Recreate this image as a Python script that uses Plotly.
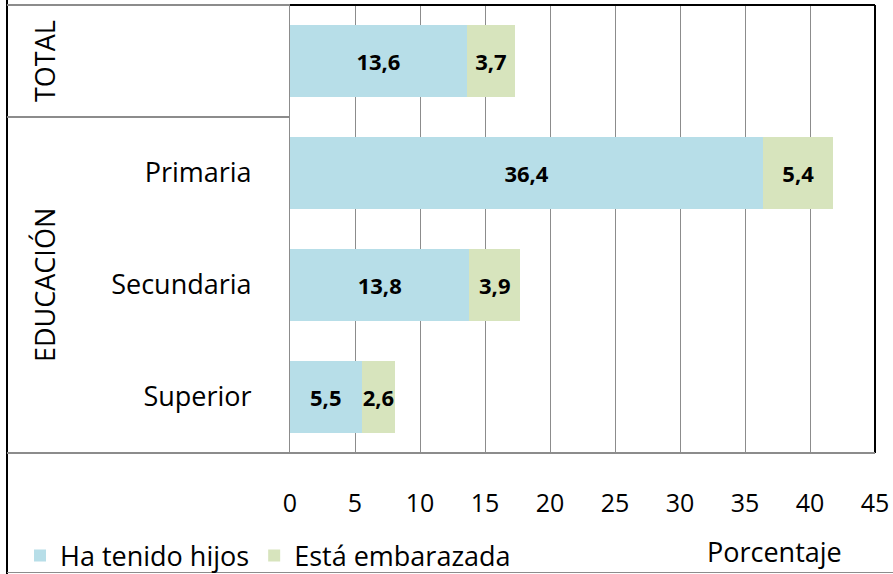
import plotly.graph_objects as go

categories = ["TOTAL", "Primaria", "Secundaria", "Superior"]
tick_labels = ["", "Primaria", "Secundaria", "Superior"]
ha_tenido_hijos = [13.6, 36.4, 13.8, 5.5]
esta_embarazada = [3.7, 5.4, 3.9, 2.6]
x_ticks = [0, 5, 10, 15, 20, 25, 30, 35, 40, 45]

W, H = 893, 574
L, R, T, B = 290, 875, 5, 453


def px(x):
    return (x - L) / (R - L)


def py(y):
    return (B - y) / (B - T)


def fmt(v):
    return f"{v:.1f}".replace(".", ",")


FONT = "Open Sans"
BIG = 27

fig = go.Figure()
fig.add_trace(go.Bar(
    y=categories, x=ha_tenido_hijos, orientation="h", name="Ha tenido hijos",
    marker=dict(color="#B7DEE8", line=dict(width=0)),
    text=[fmt(v) for v in ha_tenido_hijos], textposition="inside",
    insidetextanchor="middle", textangle=0,
    textfont=dict(family=FONT, size=22, color="black", weight="bold"),
))
fig.add_trace(go.Bar(
    y=categories, x=esta_embarazada, orientation="h", name="Está embarazada",
    marker=dict(color="#D7E4BD", line=dict(width=0)),
    text=[fmt(v) for v in esta_embarazada], textposition="inside",
    insidetextanchor="middle", textangle=0,
    textfont=dict(family=FONT, size=22, color="black", weight="bold"),
))

fig.update_layout(
    width=W, height=H, autosize=False,
    margin=dict(l=L, r=W - R, t=T, b=H - B, autoexpand=False),
    barmode="stack", bargap=0.36,
    plot_bgcolor="white", paper_bgcolor="white",
    uniformtext=dict(minsize=22, mode="show"),
    font=dict(family=FONT, color="black"),
    xaxis=dict(range=[0, 45], tickvals=x_ticks, showgrid=True, gridcolor="#8C8C8C",
               gridwidth=1, zeroline=False, showline=True, linecolor="#8C8C8C",
               ticks="", tickfont=dict(size=25, family=FONT), ticklabelstandoff=28,
               automargin=False, fixedrange=True),
    yaxis=dict(categoryorder="array", categoryarray=categories, autorange="reversed",
               tickvals=categories, ticktext=tick_labels, showgrid=False,
               showline=True, linecolor="#8C8C8C", ticks="", automargin=False,
               tickfont=dict(size=BIG, family=FONT), ticklabelstandoff=32),
    legend=dict(orientation="h", x=px(20), y=py(556), xanchor="left", yanchor="middle",
                font=dict(size=BIG, family=FONT), bgcolor="rgba(0,0,0,0)",
                itemwidth=30, tracegroupgap=0, traceorder="normal"),
    showlegend=True,
)

shapes = []
gray = "#8C8C8C"
shapes.append(dict(type="line", xref="paper", yref="paper", x0=px(7), x1=px(7),
                   y0=py(0), y1=py(574), line=dict(color="black", width=2)))
shapes.append(dict(type="line", xref="paper", yref="paper", x0=px(7), x1=px(L),
                   y0=py(5), y1=py(5), line=dict(color=gray, width=2)))
shapes.append(dict(type="line", xref="paper", yref="paper", x0=px(L), x1=px(R),
                   y0=py(5), y1=py(5), line=dict(color="black", width=2)))
shapes.append(dict(type="line", xref="paper", yref="paper", x0=px(R), x1=px(R),
                   y0=py(5), y1=py(B), line=dict(color="black", width=2)))
shapes.append(dict(type="line", xref="paper", yref="paper", x0=px(7), x1=px(L),
                   y0=py(117), y1=py(117), line=dict(color=gray, width=2)))
shapes.append(dict(type="line", xref="paper", yref="paper", x0=px(7), x1=px(R),
                   y0=py(B), y1=py(B), line=dict(color=gray, width=2)))
shapes.append(dict(type="line", xref="paper", yref="paper", x0=px(7), x1=px(893),
                   y0=py(572.5), y1=py(572.5), line=dict(color=gray, width=1)))
fig.update_layout(shapes=shapes)

fig.add_annotation(text="TOTAL", xref="paper", yref="paper", x=px(44), y=py(61),
                   textangle=-90, showarrow=False, font=dict(size=BIG, family=FONT),
                   xanchor="center", yanchor="middle")
fig.add_annotation(text="EDUCACIÓN", xref="paper", yref="paper", x=px(44), y=py(285),
                   textangle=-90, showarrow=False, font=dict(size=BIG, family=FONT),
                   xanchor="center", yanchor="middle")
fig.add_annotation(text="Porcentaje", xref="paper", yref="paper", x=px(774), y=py(551),
                   showarrow=False, font=dict(size=BIG, family=FONT),
                   xanchor="center", yanchor="middle")

fig.write_html("out.html", config={"displayModeBar": False},
               post_script="document.body.style.margin='0';")
